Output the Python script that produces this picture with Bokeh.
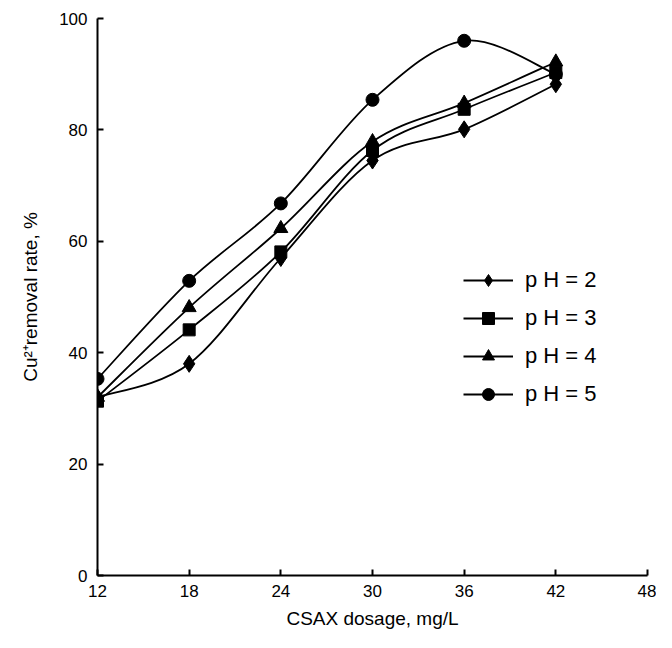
from bokeh.plotting import figure
from bokeh.models import ColumnDataSource, Legend, LegendItem, FixedTicker
from bokeh.embed import file_html
from bokeh.resources import INLINE

# ---- data ----
dosage = [12, 18, 24, 30, 36, 42]
ph2 = [32.0, 38.0, 57.0, 74.5, 80.1, 88.2]
ph3 = [31.3, 44.1, 58.1, 76.3, 83.7, 90.3]
ph4 = [32.0, 48.1, 62.3, 77.9, 84.8, 92.2]
ph5 = [35.3, 52.9, 66.8, 85.4, 96.0, 90.0]
series_labels = ["p H = 2", "p H = 3", "p H = 4", "p H = 5"]
x_ticks = [12, 18, 24, 30, 36, 42, 48]
y_ticks = [0, 20, 40, 60, 80, 100]
x_title = "CSAX dosage, mg/L"
y_title = "Cu\u00b2\u207aremoval rate, %"

FONT = "Liberation Sans"


def smooth_segments(xs, ys, t=1.0 / 6.0):
    """Catmull-Rom style Bezier segments (like a spreadsheet 'smoothed line')."""
    n = len(xs)
    d = dict(x0=[], y0=[], x1=[], y1=[], cx0=[], cy0=[], cx1=[], cy1=[])
    for i in range(n - 1):
        pm = max(i - 1, 0)
        pp = min(i + 2, n - 1)
        d["x0"].append(xs[i]); d["y0"].append(ys[i])
        d["x1"].append(xs[i + 1]); d["y1"].append(ys[i + 1])
        d["cx0"].append(xs[i] + (xs[i + 1] - xs[pm]) * t)
        d["cy0"].append(ys[i] + (ys[i + 1] - ys[pm]) * t)
        d["cx1"].append(xs[i + 1] - (xs[pp] - xs[i]) * t)
        d["cy1"].append(ys[i + 1] - (ys[pp] - ys[i]) * t)
    return d


p = figure(width=656, height=632, x_range=(12, 48), y_range=(0, 100),
           output_backend="svg", toolbar_location=None,
           min_border_left=97, min_border_right=9, min_border_top=18,
           min_border_bottom=57)
p.outline_line_color = None
p.grid.visible = False

for ax in (p.xaxis[0], p.yaxis[0]):
    ax.axis_line_width = 2
    ax.axis_line_color = "black"
    ax.major_tick_line_width = 2
    ax.major_tick_line_color = "black"
    ax.major_tick_in = 6
    ax.major_tick_out = 0
    ax.minor_tick_line_color = None
    ax.major_label_text_font = FONT
    ax.major_label_text_font_size = "17px"
    ax.major_label_text_color = "black"
    ax.axis_label_text_font = FONT
    ax.axis_label_text_font_style = "normal"
    ax.axis_label_text_font_size = "19px"
    ax.axis_label_text_color = "black"

p.xaxis.ticker = FixedTicker(ticks=x_ticks)
p.yaxis.ticker = FixedTicker(ticks=y_ticks)
p.xaxis.major_label_standoff = 9
p.yaxis.major_label_standoff = 10
p.xaxis.axis_label = x_title
p.xaxis.axis_label_standoff = 8
p.yaxis.axis_label = y_title
p.yaxis.axis_label_standoff = 15

markers = ["diamond", "square", "triangle", "circle"]
sizes = [17, 12, 14, 13]
items = []
for ys, lab, mk, sz in zip([ph2, ph3, ph4, ph5], series_labels, markers, sizes):
    seg = ColumnDataSource(smooth_segments(dosage, ys))
    r_line = p.bezier(x0="x0", y0="y0", x1="x1", y1="y1", cx0="cx0", cy0="cy0",
                      cx1="cx1", cy1="cy1", source=seg, line_color="black",
                      line_width=1.8)
    r_pts = p.scatter(dosage, ys, marker=mk, size=sz, fill_color="black",
                      line_color="black")
    items.append(LegendItem(label=lab, renderers=[r_line, r_pts]))

legend = Legend(items=items, location=(366, 166), glyph_width=50, glyph_height=30,
                spacing=8, padding=0, margin=0, label_standoff=12,
                label_text_font=FONT, label_text_font_size="22px",
                label_text_color="black", border_line_color=None,
                background_fill_alpha=0)
p.add_layout(legend)

open("out.html", "w").write(file_html(p, INLINE))
